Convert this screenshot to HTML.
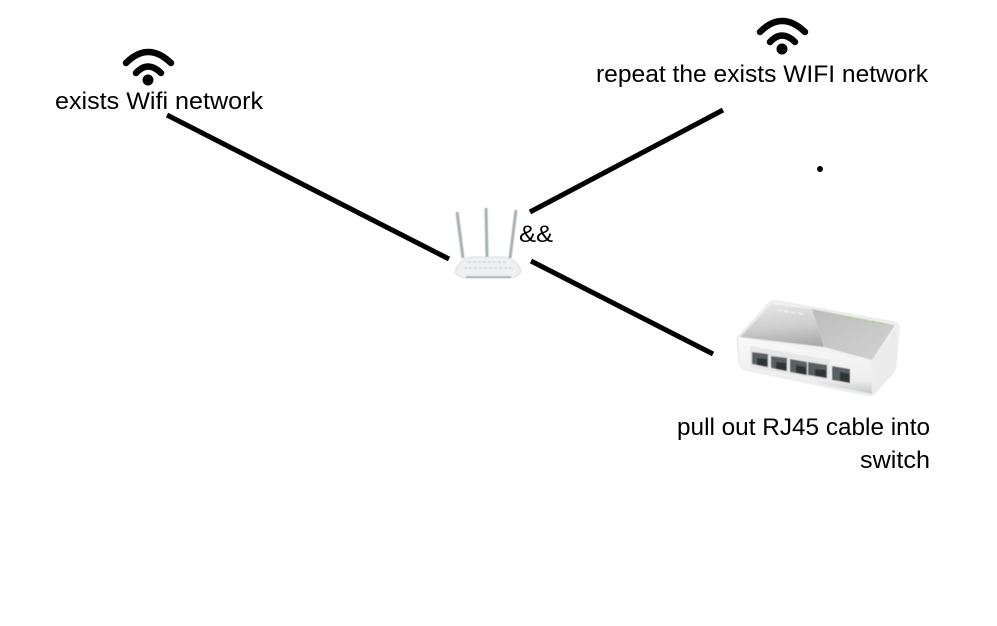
<!DOCTYPE html>
<html>
<head>
<meta charset="utf-8">
<style>
html,body{margin:0;padding:0;background:#fff;width:997px;height:626px;overflow:hidden}
svg{display:block}
text{font-family:"Liberation Sans",sans-serif;font-size:24px;fill:#000}
</style>
</head>
<body>
<svg width="997" height="626" viewBox="0 0 997 626" xmlns="http://www.w3.org/2000/svg">
<defs>
<filter id="b" x="-10%" y="-10%" width="120%" height="120%"><feGaussianBlur stdDeviation="0.6"/></filter>
<filter id="b2" x="-10%" y="-10%" width="120%" height="120%"><feGaussianBlur stdDeviation="0.45"/></filter>
<linearGradient id="top" x1="0.4" y1="0" x2="0.55" y2="1"><stop offset="0" stop-color="#e6e6e6"/><stop offset=".55" stop-color="#cdcdcd"/><stop offset="1" stop-color="#a9a9a9"/></linearGradient>
<linearGradient id="top2" x1="0" y1="0" x2="1" y2="1"><stop offset="0" stop-color="#bdbdbd"/><stop offset="1" stop-color="#d2d2d2"/></linearGradient>
<linearGradient id="rb" x1="0" y1="0" x2="0" y2="1"><stop offset="0" stop-color="#f9f9f9"/><stop offset=".75" stop-color="#eeeeee"/><stop offset="1" stop-color="#c4c7ca"/></linearGradient>
</defs>
<rect width="997" height="626" fill="#fff"/>

<g fill="none" stroke="#000" stroke-width="6.5" stroke-linecap="round">
<path d="M126 63 Q148 41 171 63"/>
<path d="M136 73 Q148 60 161 73"/>
<circle cx="148" cy="80" r="5.5" fill="#000" stroke="none"/>
</g>
<g fill="none" stroke="#000" stroke-width="6.5" stroke-linecap="round" transform="translate(634,-31)">
<path d="M126 63 Q148 41 171 63"/>
<path d="M136 73 Q148 60 161 73"/>
<circle cx="148" cy="80" r="5.5" fill="#000" stroke="none"/>
</g>

<text x="55" y="109" textLength="208" lengthAdjust="spacingAndGlyphs">exists Wifi network</text>
<text x="596" y="82" textLength="332" lengthAdjust="spacingAndGlyphs">repeat the exists WIFI network</text>
<text x="519" y="242" textLength="34" lengthAdjust="spacingAndGlyphs">&amp;&amp;</text>
<text x="677" y="435" textLength="253" lengthAdjust="spacingAndGlyphs">pull out RJ45 cable into</text>
<text x="860" y="468" textLength="70" lengthAdjust="spacingAndGlyphs">switch</text>

<g stroke="#000" stroke-width="5" fill="none">
<line x1="167" y1="115" x2="449" y2="259"/>
<line x1="530" y1="212" x2="723" y2="110"/>
<line x1="531" y1="261" x2="713" y2="354"/>
</g>
<circle cx="820" cy="169" r="3" fill="#000"/>

<g filter="url(#b2)">
<path d="M457 212 L463 258" stroke="#a9aeae" stroke-width="3" fill="none"/>
<path d="M486 208 L487 257" stroke="#a9aeae" stroke-width="3" fill="none"/>
<path d="M516 210 L510 258" stroke="#a9aeae" stroke-width="3" fill="none"/>
<path d="M455 272 Q459 259 472 257 L505 257 Q518 260 521 271 Q519 277 510 278 L466 278 Q457 277 455 272Z" fill="#eef0f1" stroke="#d0d4d6" stroke-width=".8"/>
<path d="M466 277 L511 277" stroke="#9aa1a8" stroke-width="1.6"/>
<path d="M468 262 L508 262 M464 268 L512 268" stroke="#c4c8cb" stroke-width="1" stroke-dasharray="3 2"/>
</g>

<g filter="url(#b)">
<path d="M737 338 L770 302 Q773 300 778 301 L893 322 Q898 323 899 327 L896 366 Q896 372 888 378 L875 393 Q872 396 866 395 L746 370 Q740 368 739 363Z" fill="#f2f2f2" stroke="#e4e4e4" stroke-width="1"/>
<path d="M740 337 L771 304 L812 309 L824 347Z" fill="url(#top)"/>
<path d="M812 309 L895 325 L872 360 L824 347Z" fill="url(#top2)"/>
<path d="M840 316 L884 324" stroke="#a8cc7c" stroke-width="1.6" stroke-dasharray="4 4"/>
<path d="M777 310 L803 314" stroke="#f0f0f0" stroke-width="1.6" stroke-dasharray="5 2"/>
<path d="M739 337 L872 361 L872 394 L746 369 Q740 367 739 363Z" fill="url(#rb)"/>
<path d="M872 361 L897 327 L896 366 Q896 372 888 378 L873 394Z" fill="#ececec"/>
<path d="M750 346 L830 360 L830 380 L750 368Z" fill="#e6e7e7"/>
<g fill="#5a6162">
<path d="M752 352 L768 354 L768 367 L752 364Z"/>
<path d="M771 356 L787 358 L787 371 L771 368Z"/>
<path d="M790 359 L807 362 L807 375 L790 372Z"/>
<path d="M808 362 L827 365 L827 378 L808 375Z"/>
<path d="M832 366 L850 369 L850 383 L832 380Z"/>
</g>
<g fill="#2f3536">
<path d="M757 358 L767 359 L767 367 L757 365Z"/>
<path d="M776 362 L786 363 L786 371 L776 369Z"/>
<path d="M796 365 L806 367 L806 375 L796 373Z"/>
<path d="M815 369 L826 370 L826 378 L815 376Z"/>
<path d="M840 372 L850 374 L850 383 L840 381Z"/>
</g>
</g>
</svg>
</body>
</html>
